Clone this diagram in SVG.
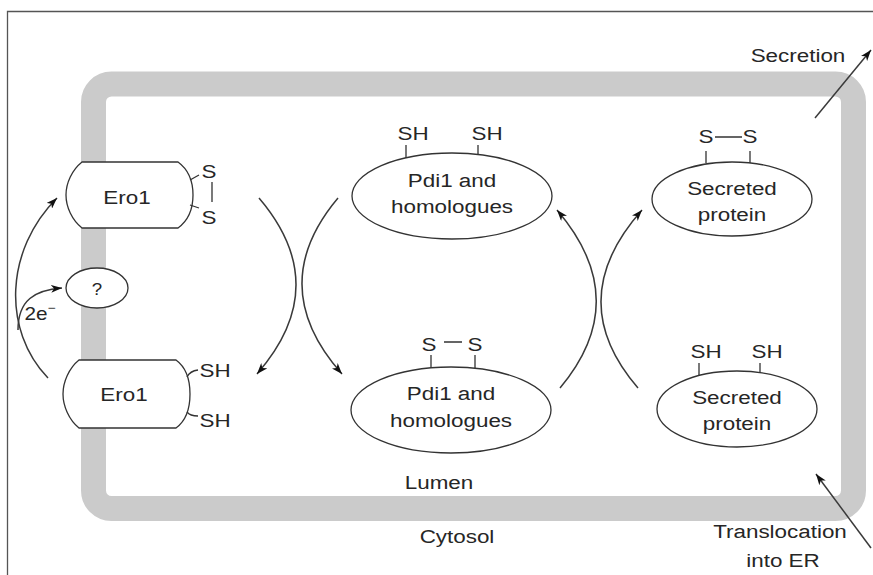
<svg xmlns="http://www.w3.org/2000/svg" width="873" height="575" viewBox="0 0 873 575">
<defs>
<style>
.t{font-family:"Liberation Sans",Arial,Helvetica,sans-serif;font-size:19px;fill:#262626;text-anchor:middle}
.s{fill:#fff;stroke:#333;stroke-width:1.3}
.ln{fill:none;stroke:#333;stroke-width:1.3}
.c{fill:none;stroke:#3a3a3a;stroke-width:1.5}
.a{marker-end:url(#ah)}
</style>
<marker id="ah" markerUnits="userSpaceOnUse" markerWidth="12" markerHeight="8" refX="11" refY="4" orient="auto">
<path d="M0,0 L11,4 L0,8 L3,4 Z" fill="#111"/>
</marker>
</defs>
<rect width="873" height="575" fill="#fff"/>
<g id="frame">
<path d="M7.5,575 V11.5 H873" fill="none" stroke="#555" stroke-width="1.3"/>
</g>
<g id="membrane">
<rect x="93.5" y="84" width="760" height="424.5" rx="18" fill="none" stroke="#cbcbcb" stroke-width="25"/>
</g>
<g id="connectors">
<path class="c a" d="M48,378 C2,330 5,250 57,198"/>
<path class="c a" d="M18,330 C18,300 35,290 62,288"/>
<path class="c a" d="M259,198 Q334,286 257,374"/>
<path class="c a" d="M338,198 Q264,286 342,374"/>
<path class="c a" d="M560,388 Q634,300 557,210"/>
<path class="c a" d="M638,388 Q562,300 642,210"/>
<path class="c a" d="M815,118 L871,50"/>
<path class="c a" d="M871,548 L816,474"/>
</g>
<g id="ero1-oxidized">
<path class="s" d="M82,162 H178 C189,170 193,183 193,195 C193,207 189,220 178,228 H82 C72,220 66,207 66,195 C66,183 72,170 82,162 Z"/>
<text class="t" transform="translate(127,204) scale(1.18,1)">Ero1</text>
<path class="ln" d="M190,180 L199,175 M190,205 L199,208 M212,182 V202"/>
<text class="t" transform="translate(209,178) scale(1.18,1)">S</text>
<text class="t" transform="translate(209,224) scale(1.18,1)">S</text>
</g>
<g id="unknown">
<ellipse class="s" cx="97" cy="288" rx="31" ry="20"/>
<text class="t" transform="translate(97,295) scale(1.1,1)" style="font-size:17px">?</text>
</g>
<g id="electrons">
<text class="t" transform="translate(40,320) scale(1.15,1)" style="font-size:18px">2e<tspan font-size="12" dy="-8">−</tspan></text>
</g>
<g id="ero1-reduced">
<path class="s" d="M79,360 H176 C187,368 190,382 190,394 C190,406 187,420 176,428 H79 C69,420 63,406 63,394 C63,382 69,368 79,360 Z"/>
<text class="t" transform="translate(124,401) scale(1.18,1)">Ero1</text>
<path class="ln" d="M187,377 Q190,371 198,370 M187,412 Q190,416 198,416"/>
<text class="t" transform="translate(215,377) scale(1.18,1)">SH</text>
<text class="t" transform="translate(215,427) scale(1.18,1)">SH</text>
</g>
<g id="pdi1-reduced">
<path class="ln" d="M406,145 V158 M478,145 V155"/>
<ellipse class="s" cx="452" cy="196" rx="100" ry="43"/>
<text class="t" transform="translate(413,140) scale(1.18,1)">SH</text>
<text class="t" transform="translate(487,140) scale(1.18,1)">SH</text>
<text class="t" transform="translate(452,187) scale(1.18,1)">Pdi1 and</text>
<text class="t" transform="translate(452,213) scale(1.18,1)">homologues</text>
</g>
<g id="pdi1-oxidized">
<path class="ln" d="M431,355 V368 M475,355 V368 M444,342 H462"/>
<ellipse class="s" cx="451" cy="410" rx="100" ry="43"/>
<text class="t" transform="translate(429,351) scale(1.18,1)">S</text>
<text class="t" transform="translate(475,351) scale(1.18,1)">S</text>
<text class="t" transform="translate(451,400) scale(1.18,1)">Pdi1 and</text>
<text class="t" transform="translate(451,427) scale(1.18,1)">homologues</text>
</g>
<g id="secreted-oxidized">
<path class="ln" d="M706,151 V163 M750,151 V163 M715,137 H742"/>
<ellipse class="s" cx="732" cy="199" rx="80" ry="37"/>
<text class="t" transform="translate(706,143) scale(1.18,1)">S</text>
<text class="t" transform="translate(750,143) scale(1.18,1)">S</text>
<text class="t" transform="translate(732,195) scale(1.18,1)">Secreted</text>
<text class="t" transform="translate(732,221) scale(1.18,1)">protein</text>
</g>
<g id="secreted-reduced">
<path class="ln" d="M699,363 V376 M760,363 V373"/>
<ellipse class="s" cx="737" cy="409" rx="80" ry="38"/>
<text class="t" transform="translate(706,358) scale(1.18,1)">SH</text>
<text class="t" transform="translate(767,358) scale(1.18,1)">SH</text>
<text class="t" transform="translate(737,404) scale(1.18,1)">Secreted</text>
<text class="t" transform="translate(737,430) scale(1.18,1)">protein</text>
</g>
<g id="labels">
<text class="t" transform="translate(798,62) scale(1.18,1)">Secretion</text>
<text class="t" transform="translate(439,489) scale(1.18,1)">Lumen</text>
<text class="t" transform="translate(457,543) scale(1.18,1)">Cytosol</text>
<text class="t" transform="translate(780,538) scale(1.18,1)">Translocation</text>
<text class="t" transform="translate(783,567) scale(1.18,1)">into ER</text>
</g>
</svg>
